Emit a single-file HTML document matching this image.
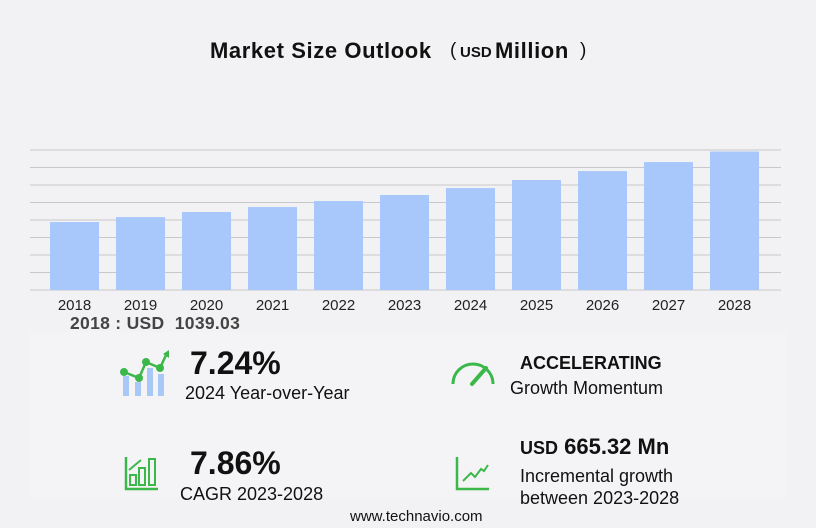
<!DOCTYPE html>
<html><head><meta charset="utf-8">
<style>
body{margin:0;width:816px;height:528px;background:#f2f2f4;font-family:"Liberation Sans",sans-serif;position:relative;overflow:hidden;color:#111}
.t{position:absolute;white-space:nowrap}
</style></head><body>
<div>
<div class="t" style="left:210px;top:38px;font-size:22px;font-weight:bold;letter-spacing:0.6px">Market Size Outlook</div>
<div class="t" style="left:450px;top:40px;font-size:19px">(</div>
<div class="t" style="left:460px;top:44px;font-size:15px;font-weight:bold">USD</div>
<div class="t" style="left:495px;top:38px;font-size:22px;font-weight:bold;letter-spacing:0.6px">Million</div>
<div class="t" style="left:580px;top:40px;font-size:19px">)</div>
</div>
<svg id="chart" width="816" height="330" style="position:absolute;left:0;top:0"></svg>
<div class="t" style="left:70px;top:313px;font-size:17.5px;font-weight:bold;color:#444;letter-spacing:0.3px">2018 : USD &nbsp;1039.03</div>
<div style="position:absolute;left:30px;top:332px;width:756px;height:165px;background:#f4f4f6"></div>

<svg style="position:absolute;left:118px;top:350px" width="54" height="48">
<rect x="5" y="26" width="6" height="20" fill="#a8c8f8"/><rect x="17" y="32" width="6" height="14" fill="#a8c8f8"/><rect x="29" y="18" width="6" height="28" fill="#a8c8f8"/><rect x="40" y="24" width="6" height="22" fill="#a8c8f8"/>
<polyline points="6,22 21,28 28,12 42,18 49,3" fill="none" stroke="#3cb84a" stroke-width="2.5"/>
<circle cx="6" cy="22" r="4" fill="#3cb84a"/><circle cx="21" cy="28" r="4" fill="#3cb84a"/><circle cx="28" cy="12" r="4" fill="#3cb84a"/><circle cx="42" cy="18" r="4" fill="#3cb84a"/><path d="M45,4 L51,0 L51,8Z" fill="#3cb84a"/></svg>
<div class="t" style="left:190px;top:345px;font-size:32px;font-weight:bold">7.24%</div>
<div class="t" style="left:185px;top:383px;font-size:18px">2024 Year-over-Year</div>

<svg style="position:absolute;left:450px;top:358px" width="46" height="28">
<path d="M3,26 A20,20 0 0 1 43,26" fill="none" stroke="#3cb84a" stroke-width="3"/>
<path d="M22,26 L36,10" stroke="#3cb84a" stroke-width="4" stroke-linecap="round"/></svg>
<div class="t" style="left:520px;top:353px;font-size:18px;font-weight:bold">ACCELERATING</div>
<div class="t" style="left:510px;top:378px;font-size:18px">Growth Momentum</div>

<svg style="position:absolute;left:124px;top:455px" width="36" height="36">
<path d="M2,2 L2,34 L34,34" fill="none" stroke="#3cb84a" stroke-width="2.5"/>
<rect x="6" y="20" width="6" height="10" fill="none" stroke="#3cb84a" stroke-width="2"/><rect x="15" y="13" width="6" height="17" fill="none" stroke="#3cb84a" stroke-width="2"/><rect x="25" y="4" width="6" height="26" fill="none" stroke="#3cb84a" stroke-width="2"/>
<path d="M5,15 L17,5" stroke="#3cb84a" stroke-width="2"/></svg>
<div class="t" style="left:190px;top:445px;font-size:32px;font-weight:bold">7.86%</div>
<div class="t" style="left:180px;top:484px;font-size:18px">CAGR 2023-2028</div>

<svg style="position:absolute;left:455px;top:455px" width="36" height="36">
<path d="M2,2 L2,34 L34,34" fill="none" stroke="#3cb84a" stroke-width="2.5"/>
<polyline points="8,26 16,18 20,22 26,14 29,16 33,10" fill="none" stroke="#3cb84a" stroke-width="2"/></svg>
<div class="t" style="left:520px;top:434px;font-size:22px;font-weight:bold"><span style="font-size:18px">USD</span> 665.32 Mn</div>
<div class="t" style="left:520px;top:465px;font-size:18px;line-height:22px">Incremental growth<br>between 2023-2028</div>
<div class="t" style="left:350px;top:508px;font-size:15px">www.technavio.com</div>

<script>
const categories=["2018","2019","2020","2021","2022","2023","2024","2025","2026","2027","2028"];
const values=[1039.03,1115,1192,1268,1360,1452,1558,1681,1818,1956,2117];
const gridCount=8;
const yMax=2140;
const svg=document.getElementById('chart');
const NS='http://www.w3.org/2000/svg';
const y0=290,ph=140,x0=41,pitch=66,bw=49;
function yS(v){return y0-v/yMax*ph;}
function xS(i){return x0+pitch*i;}
for(let g=0;g<=gridCount;g++){
 const l=document.createElementNS(NS,'line');
 const yy=y0-g*ph/gridCount;
 l.setAttribute('x1',30);l.setAttribute('x2',781);l.setAttribute('y1',yy);l.setAttribute('y2',yy);
 l.setAttribute('stroke','#c8c8cc');l.setAttribute('stroke-width','1');
 
 
 svg.appendChild(l);
}
values.forEach((v,i)=>{
 const r=document.createElementNS(NS,'rect');
 r.setAttribute('x',xS(i)+9);r.setAttribute('width',bw);r.setAttribute('y',yS(v));r.setAttribute('height',y0-yS(v));
 r.setAttribute('fill','#a8c8fc');
 
 
 svg.appendChild(r);
 const t=document.createElementNS(NS,'text');
 t.setAttribute('x',xS(i)+9+bw/2);t.setAttribute('y',310);t.setAttribute('text-anchor','middle');
 t.setAttribute('font-size','15');t.setAttribute('font-family','Liberation Sans, sans-serif');t.setAttribute('fill','#222');
 t.textContent=categories[i];
 
 
 svg.appendChild(t);
});
</script>
</body></html>
